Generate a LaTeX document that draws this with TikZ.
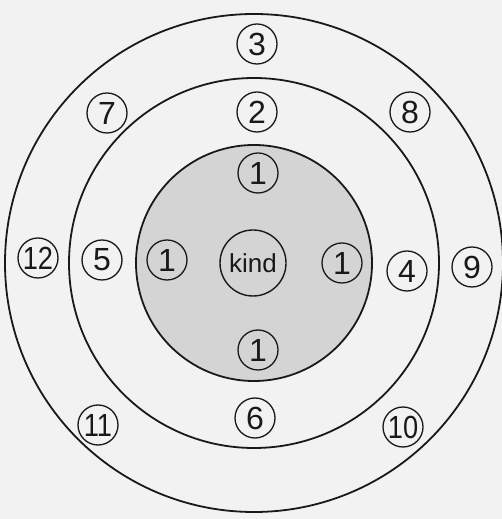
\documentclass[tikz,border=0pt]{standalone}
\usepackage{fontspec}
\setmainfont{Liberation Sans}
\definecolor{paper}{RGB}{242,242,242}
\definecolor{shade}{RGB}{212,212,212}
\definecolor{ink}{RGB}{25,25,25}
\begin{document}
\begin{tikzpicture}[x=1pt,y=1pt,
  ring/.style={draw=ink,line width=1.8pt},
  num/.style={circle,draw=ink,line width=1.3pt,minimum size=40pt,inner sep=0pt,
    font=\fontsize{32}{32}\selectfont,text=ink},
  kindbox/.style={circle,draw=ink,line width=1.4pt,minimum size=66pt,inner sep=0pt,
    font=\fontsize{26}{26}\selectfont,text=ink}]
\fill[paper] (0,0) rectangle (502,519);
\useasboundingbox (0,0) rectangle (502,519);
\coordinate (c) at (254,256);
\draw[ring] (c) circle[radius=249];
\draw[ring] (c) circle[radius=185];
\draw[ring,fill=shade] (c) circle[radius=118];
% nodes (y = 519 - image y)
\node[num] (n3) at (257,475) {3};
\node[num] (n7) at (107,406) {7};
\node[num] (n2) at (257,407) {2};
\node[num] (n8) at (410,407) {8};
\node[num] (n1t) at (258,346) {1};
\node[num] (n12) at (38,261) {\scalebox{0.85}[1]{12}};
\node[num] (n5) at (102,259) {5};
\node[num] (n1l) at (167,259) {1};
\node[kindbox] (kind) at (253,256) {kind};
\node[num] (n1r) at (342,256) {1};
\node[num] (n4) at (407,248) {4};
\node[num] (n9) at (472,252) {9};
\node[num] (n1b) at (258,169) {1};
\node[num] (n11) at (98,94) {\scalebox{0.85}[1]{11}};
\node[num] (n6) at (255,101) {6};
\node[num] (n10) at (403,92) {\scalebox{0.85}[1]{10}};
\end{tikzpicture}
\end{document}
